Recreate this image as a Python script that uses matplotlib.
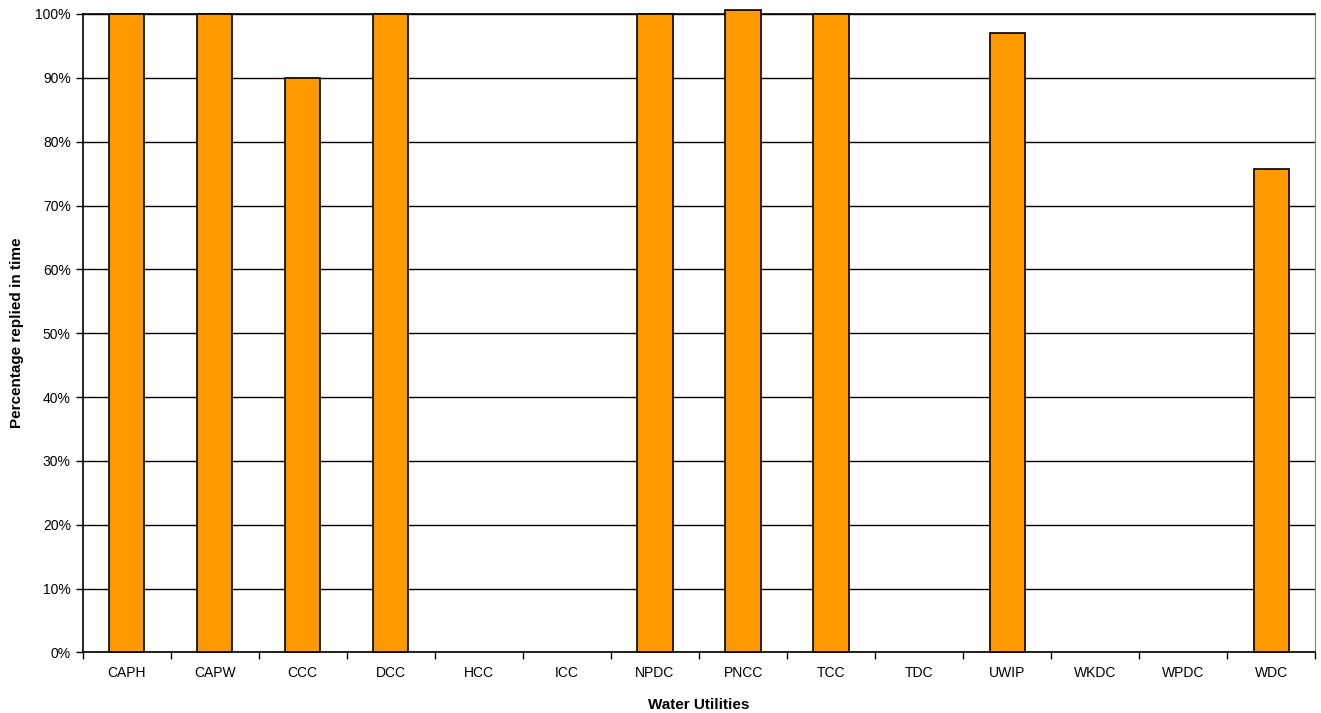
import matplotlib.pyplot as plt
from matplotlib.ticker import FixedLocator, PercentFormatter
import numpy as np

plt.rcParams['font.family'] = ['Liberation Sans', 'DejaVu Sans']

utilities = ["CAPH", "CAPW", "CCC", "DCC", "HCC", "ICC", "NPDC", "PNCC",
             "TCC", "TDC", "UWIP", "WKDC", "WPDC", "WDC"]
replied_pct = [100, 100, 90, 100, 0, 0, 100, 100.6, 100, 0, 97, 0, 0, 75.7]

fig = plt.figure(figsize=(13.21, 7.13), dpi=100)
ax = fig.add_axes([0.0625, 0.0849, 0.9333, 0.8955])

x = np.arange(len(utilities))
bars = ax.bar(x, replied_pct, width=0.4, color="#FF9900", edgecolor="black",
              linewidth=1.2, zorder=3)
for b, v in zip(bars, replied_pct):
    b.set_clip_on(False)
    if v == 0:
        b.set_visible(False)

ax.set_xlim(-0.5, len(utilities) - 0.5)
ax.set_ylim(0, 100)
ax.set_yticks(np.arange(0, 101, 10))
ax.yaxis.set_major_formatter(PercentFormatter(decimals=0))
ax.grid(axis="y", color="black", linewidth=1, zorder=0)

ax.set_xticks(x)
ax.set_xticklabels(utilities)
ax.xaxis.set_minor_locator(FixedLocator(np.arange(-0.5, len(utilities), 1)))
ax.tick_params(axis="x", which="major", length=0, pad=10, labelsize=10)
ax.tick_params(axis="x", which="minor", length=5, width=1)
ax.tick_params(axis="y", length=5, width=1, labelsize=10)

ax.spines["right"].set_color("#808080")
for side in ["left", "bottom", "top"]:
    ax.spines[side].set_color("black")
    ax.spines[side].set_linewidth(1.2)

ax.set_xlabel("Water Utilities", fontweight="bold", fontsize=11, labelpad=13)
ax.set_ylabel("Percentage replied in time", fontweight="bold", fontsize=11, labelpad=8)

fig.savefig("out.png", dpi=100)
